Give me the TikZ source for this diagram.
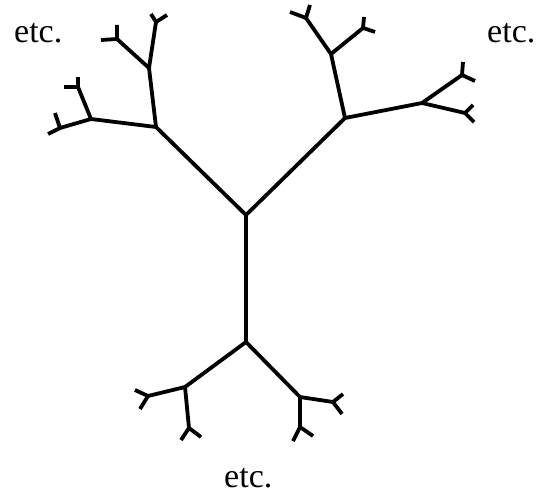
\documentclass[tikz,border=0pt]{standalone}
\usepackage{fontspec}
\setmainfont{Liberation Serif}
\usetikzlibrary{positioning}

\begin{document}
\begin{tikzpicture}[
    x=1pt, y=-1pt,
    bond/.style={line width=3.8pt, line join=round},
    etclabel/.style={anchor=base west, inner sep=0pt, font=\fontsize{34}{38}\selectfont}
]
\useasboundingbox (0,0) rectangle (537,495);

% Centre and first generation
\coordinate (c)  at (246,215);
\coordinate (l1) at (156,127);
\coordinate (r1) at (345,118);
\coordinate (b1) at (246,342);

% Second generation
\coordinate (l2a) at (149,68);
\coordinate (l2b) at (91,119);
\coordinate (r2a) at (331,54);
\coordinate (r2b) at (422,103);
\coordinate (b2a) at (185,387);
\coordinate (b2b) at (300,397);

% Third generation (leaves) and their forks
\coordinate (la1) at (156,22);  \coordinate (la1p) at (151,14);  \coordinate (la1q) at (167,15);
\coordinate (la2) at (117,39);  \coordinate (la2p) at (117,25);  \coordinate (la2q) at (101,40);
\coordinate (lb1) at (78,87);   \coordinate (lb1p) at (78,77);   \coordinate (lb1q) at (64,87);
\coordinate (lb2) at (60,128);  \coordinate (lb2p) at (55,113);  \coordinate (lb2q) at (48,134);
\coordinate (ra1) at (306,18);  \coordinate (ra1p) at (290,12);  \coordinate (ra1q) at (310,5);
\coordinate (ra2) at (363,28);  \coordinate (ra2p) at (364,17);  \coordinate (ra2q) at (375,32);
\coordinate (rb1) at (462,75);  \coordinate (rb1p) at (463,62);  \coordinate (rb1q) at (475,81);
\coordinate (rb2) at (465,113); \coordinate (rb2p) at (473,105); \coordinate (rb2q) at (474,122);
\coordinate (ba1) at (148,396); \coordinate (ba1p) at (135,390); \coordinate (ba1q) at (140,409);
\coordinate (ba2) at (189,428); \coordinate (ba2p) at (181,440); \coordinate (ba2q) at (201,437);
\coordinate (bb1) at (333,402); \coordinate (bb1p) at (343,394); \coordinate (bb1q) at (342,414);
\coordinate (bb2) at (300,427); \coordinate (bb2p) at (293,441); \coordinate (bb2q) at (313,436);

% Bonds
\foreach \a/\b in {c/l1, c/r1, c/b1,
                   l1/l2a, l1/l2b, r1/r2a, r1/r2b, b1/b2a, b1/b2b,
                   l2a/la1, l2a/la2, l2b/lb1, l2b/lb2,
                   r2a/ra1, r2a/ra2, r2b/rb1, r2b/rb2,
                   b2a/ba1, b2a/ba2, b2b/bb1, b2b/bb2} {
  \draw[bond] (\a) -- (\b);
}
\foreach \n in {la1,la2,lb1,lb2,ra1,ra2,rb1,rb2,ba1,ba2,bb1,bb2} {
  \draw[bond] (\n p) -- (\n) -- (\n q);
}

% Labels
\node[etclabel] (etcl) at (14,43) {etc.};
\node[etclabel] (etcr) at (487,42) {etc.};
\node[etclabel] (etcb) at (224,487) {etc.};

\end{tikzpicture}
\end{document}
